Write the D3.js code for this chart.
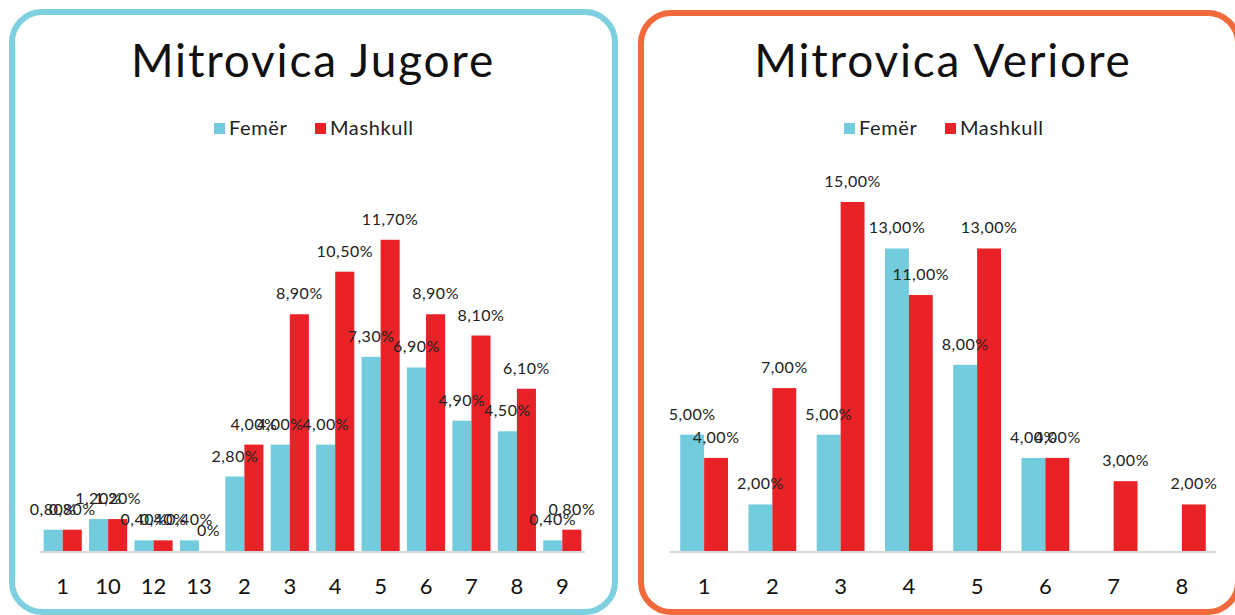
<!DOCTYPE html>
<html>
<head>
<meta charset="utf-8">
<script src="https://cdn.jsdelivr.net/npm/d3@7"></script>
<style>
  body { margin: 0; background: #fff; }
  text { font-family: Lato, "Open Sans", sans-serif; fill: #222; }
</style>
</head>
<body>
<svg id="chart" width="1235" height="615"></svg>
<script>
// Mitrovica Jugore
const southCats = ["1", "10", "12", "13", "2", "3", "4", "5", "6", "7", "8", "9"];
const southFem = [0.8, 1.2, 0.4, 0.4, 2.8, 4.0, 4.0, 7.3, 6.9, 4.9, 4.5, 0.4];
const southMal = [0.8, 1.2, 0.4, 0, 4.0, 8.9, 10.5, 11.7, 8.9, 8.1, 6.1, 0.8];

// Mitrovica Veriore
const northCats = ["1", "2", "3", "4", "5", "6", "7", "8"];
const northFem = [5, 2, 5, 13, 8, 4, null, null];
const northMal = [4, 7, 15, 11, 13, 4, 3, 2];

const seriesNames = ["Femër", "Mashkull"];
const colors = ["#72ccdd", "#e82226"];

const svg = d3.select("#chart");

function fmt(v) {
  if (v === 0) return "0%";
  return v.toFixed(2).replace(".", ",") + "%";
}

function panel(opt) {
  const g = svg.append("g");

  g.append("rect")
    .attr("x", opt.box[0]).attr("y", opt.box[1])
    .attr("width", opt.box[2]).attr("height", opt.box[3])
    .attr("rx", 30).attr("ry", 30)
    .attr("fill", "none")
    .attr("stroke", opt.border)
    .attr("stroke-width", 6);

  g.append("text")
    .attr("x", opt.titleX).attr("y", 77)
    .attr("text-anchor", "middle")
    .style("font-size", "46px")
    .style("letter-spacing", "1.8px")
    .style("fill", "#111")
    .text(opt.title);

  // legend
  const leg = g.append("g").attr("transform", `translate(${opt.legendX},0)`);
  seriesNames.forEach((name, i) => {
    const lx = i * 101;
    leg.append("rect").attr("x", lx).attr("y", 123).attr("width", 11).attr("height", 11).attr("fill", colors[i]);
    leg.append("text").attr("x", lx + 15).attr("y", 135)
      .style("font-size", "20px").style("letter-spacing", "0.6px").text(name);
  });

  const x = d3.scaleBand().domain(opt.cats).range(opt.xRange).paddingInner(opt.pad).paddingOuter(opt.pad / 2);
  const xs = d3.scaleBand().domain([0, 1]).range([0, x.bandwidth()]);
  const y = d3.scaleLinear().domain([0, opt.yMax]).range([551, 551 - opt.yMax * opt.pxPer]);

  const rows = [];
  opt.cats.forEach((c, ci) => {
    [opt.fem, opt.mal].forEach((arr, si) => {
      if (arr[ci] !== null) rows.push({ cat: c, s: si, v: arr[ci] });
    });
  });

  g.selectAll("rect.bar").data(rows).enter().append("rect")
    .attr("class", "bar")
    .attr("x", d => x(d.cat) + xs(d.s))
    .attr("y", d => y(d.v))
    .attr("width", xs.bandwidth())
    .attr("height", d => y(0) - y(d.v))
    .attr("fill", d => colors[d.s]);

  g.append("line")
    .attr("x1", opt.xRange[0]).attr("x2", opt.xRange[1])
    .attr("y1", y(0) + 1).attr("y2", y(0) + 1)
    .attr("stroke", "#d9d9d9").attr("stroke-width", 2);

  g.selectAll("text.lbl").data(rows).enter().append("text")
    .attr("class", "lbl")
    .attr("x", d => x(d.cat) + xs(d.s) + xs.bandwidth() / 2)
    .attr("y", d => y(d.v) - 15)
    .attr("text-anchor", "middle")
    .style("font-size", "16px")
    .style("letter-spacing", "0.5px")
    .text(d => fmt(d.v));

  const axis = d3.axisBottom(x).tickSize(0).tickPadding(0);
  const ax = g.append("g").attr("transform", "translate(0,594)").call(axis);
  ax.select(".domain").remove();
  ax.selectAll("text").style("font-size", "22px")
    .attr("dy", 0).style("fill", "#111");
}

panel({
  title: "Mitrovica Jugore", titleX: 313, legendX: 214,
  box: [12, 12, 603, 600], border: "#7dd0e0",
  cats: southCats, fem: southFem, mal: southMal,
  xRange: [40, 585], pad: 0.16, yMax: 14, pxPer: 26.6
});

panel({
  title: "Mitrovica Veriore", titleX: 943, legendX: 844,
  box: [641, 13, 597, 599], border: "#f26a3c",
  cats: northCats, fem: northFem, mal: northMal,
  xRange: [670, 1216], pad: 0.3, yMax: 16, pxPer: 23.27
});
</script>
</body>
</html>
